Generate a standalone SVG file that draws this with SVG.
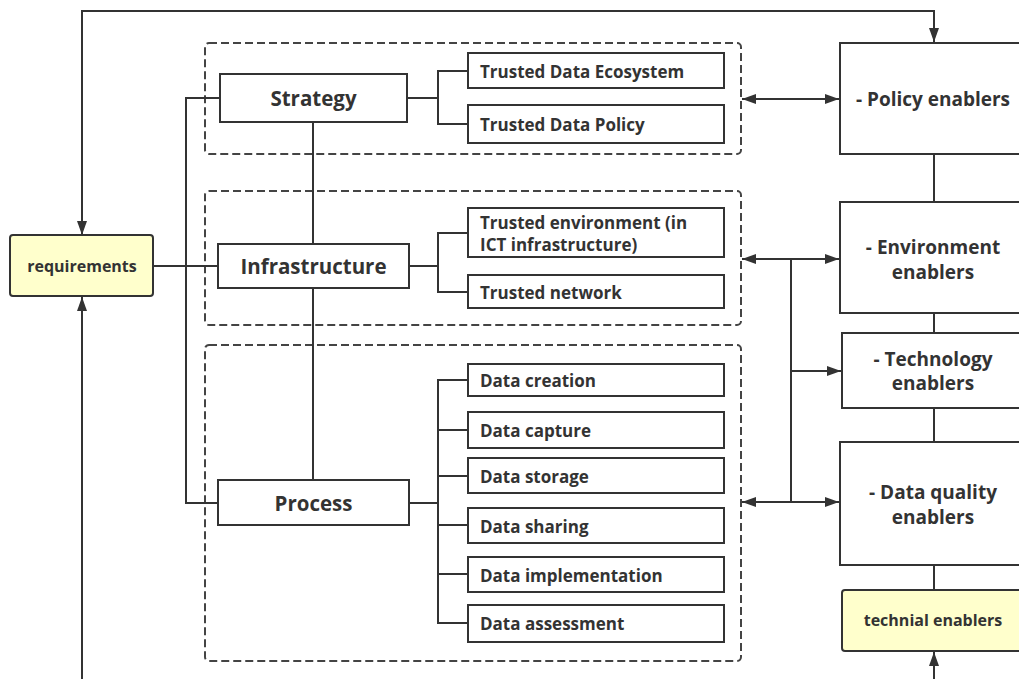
<svg xmlns="http://www.w3.org/2000/svg" width="1019" height="679" viewBox="0 0 1019 679">
<style>
  .box { fill: #ffffff; stroke: #333333; stroke-width: 2; }
  .yel { fill: #ffffcc; stroke: #333333; stroke-width: 2; }
  .grp { fill: none; stroke: #444444; stroke-width: 2; stroke-dasharray: 8 4; }
  .ln { fill: none; stroke: #333333; stroke-width: 2; }
  text { font-family: "Open Sans", "Noto Sans", "Liberation Sans", sans-serif; font-weight: 700; fill: #333333; }
  .tm { font-size: 20.5px; text-anchor: middle; dominant-baseline: central; }
  .tr { font-size: 19px; text-anchor: middle; dominant-baseline: central; }
  .tc { font-size: 17px; dominant-baseline: central; }
  .ty { font-size: 16px; text-anchor: middle; dominant-baseline: central; }
</style>
<defs>
  <marker id="arr" viewBox="0 0 14 10" refX="14" refY="5" markerWidth="14" markerHeight="10" markerUnits="userSpaceOnUse" orient="auto-start-reverse">
    <path d="M0,0 L14,5 L0,10 z" fill="#333333"/>
  </marker>
</defs>
<rect width="1019" height="679" fill="#ffffff"/>

<g id="groups">
  <rect id="group-strategy" class="grp" x="205" y="43" width="536" height="111" rx="4"/>
  <rect id="group-infrastructure" class="grp" x="205" y="191" width="536" height="134" rx="4"/>
  <rect id="group-process" class="grp" x="205" y="345" width="536" height="316" rx="4"/>
</g>

<g id="connectors">
  <path class="ln" d="M82,235 V11 H934 V42" marker-start="url(#arr)" marker-end="url(#arr)"/>
  <path class="ln" d="M82,679 V297" marker-end="url(#arr)"/>
  <path class="ln" d="M934,679 V652" marker-end="url(#arr)"/>
  <path class="ln" d="M153,266 H218"/>
  <path class="ln" d="M220,98 H186 V503 H218"/>
  <path class="ln" d="M313,122 V244 M313,288 V480"/>
  <path class="ln" d="M407,98 H438 M468,71 H438 V124 H468"/>
  <path class="ln" d="M409,266 H438 M468,233 H438 V292 H468"/>
  <path class="ln" d="M409,503 H438 M468,380 H438 V623 H468 M438,430 H468 M438,476 H468 M438,525 H468 M438,574 H468"/>
  <path class="ln" d="M742,99 H839" marker-start="url(#arr)" marker-end="url(#arr)"/>
  <path class="ln" d="M742,259 H839" marker-start="url(#arr)" marker-end="url(#arr)"/>
  <path class="ln" d="M742,502 H839" marker-start="url(#arr)" marker-end="url(#arr)"/>
  <path class="ln" d="M791,259 V502 M791,371 H841" marker-end="url(#arr)"/>
  <path class="ln" d="M934,154 V202 M934,313 V333 M934,408 V442 M934,565 V590"/>
</g>

<g id="requirements">
  <rect class="yel" x="10" y="235" width="143" height="61" rx="3"/>
  <text class="ty" x="82" y="266">requirements</text>
</g>

<g id="strategy">
  <rect class="box" x="220" y="74" width="187" height="48"/>
  <text class="tm" x="313.5" y="98">Strategy</text>
</g>
<g id="infrastructure">
  <rect class="box" x="218" y="244" width="191" height="44"/>
  <text class="tm" x="313.5" y="266">Infrastructure</text>
</g>
<g id="process">
  <rect class="box" x="218" y="480" width="191" height="45"/>
  <text class="tm" x="313.5" y="503">Process</text>
</g>

<g id="trusted-data-ecosystem">
  <rect class="box" x="468" y="53" width="256" height="35"/>
  <text class="tc" x="480" y="71">Trusted Data Ecosystem</text>
</g>
<g id="trusted-data-policy">
  <rect class="box" x="468" y="105" width="256" height="38"/>
  <text class="tc" x="480" y="124">Trusted Data Policy</text>
</g>
<g id="trusted-environment">
  <rect class="box" x="468" y="208" width="256" height="49"/>
  <text class="tc" x="480" y="222">Trusted environment (in</text>
  <text class="tc" x="480" y="244">ICT infrastructure)</text>
</g>
<g id="trusted-network">
  <rect class="box" x="468" y="275" width="256" height="33"/>
  <text class="tc" x="480" y="292">Trusted network</text>
</g>

<g id="data-creation">
  <rect class="box" x="468" y="364" width="256" height="32"/>
  <text class="tc" x="480" y="380">Data creation</text>
</g>
<g id="data-capture">
  <rect class="box" x="468" y="412" width="256" height="36"/>
  <text class="tc" x="480" y="430">Data capture</text>
</g>
<g id="data-storage">
  <rect class="box" x="468" y="458" width="256" height="35"/>
  <text class="tc" x="480" y="476">Data storage</text>
</g>
<g id="data-sharing">
  <rect class="box" x="468" y="508" width="256" height="35"/>
  <text class="tc" x="480" y="526">Data sharing</text>
</g>
<g id="data-implementation">
  <rect class="box" x="468" y="557" width="256" height="35"/>
  <text class="tc" x="480" y="575">Data implementation</text>
</g>
<g id="data-assessment">
  <rect class="box" x="468" y="605" width="256" height="37"/>
  <text class="tc" x="480" y="623">Data assessment</text>
</g>

<g id="policy-enablers">
  <rect class="box" x="840" y="43" width="186" height="111"/>
  <text class="tr" x="933" y="99">- Policy enablers</text>
</g>
<g id="environment-enablers">
  <rect class="box" x="840" y="202" width="186" height="111"/>
  <text class="tr" x="933" y="247">- Environment</text>
  <text class="tr" x="933" y="272">enablers</text>
</g>
<g id="technology-enablers">
  <rect class="box" x="842" y="333" width="184" height="75"/>
  <text class="tr" x="933" y="359">- Technology</text>
  <text class="tr" x="933" y="383">enablers</text>
</g>
<g id="data-quality-enablers">
  <rect class="box" x="840" y="442" width="186" height="123"/>
  <text class="tr" x="933" y="492">- Data quality</text>
  <text class="tr" x="933" y="517">enablers</text>
</g>
<g id="technial-enablers">
  <rect class="yel" x="842" y="590" width="184" height="61" rx="3"/>
  <text class="ty" x="933" y="620">technial enablers</text>
</g>
</svg>
